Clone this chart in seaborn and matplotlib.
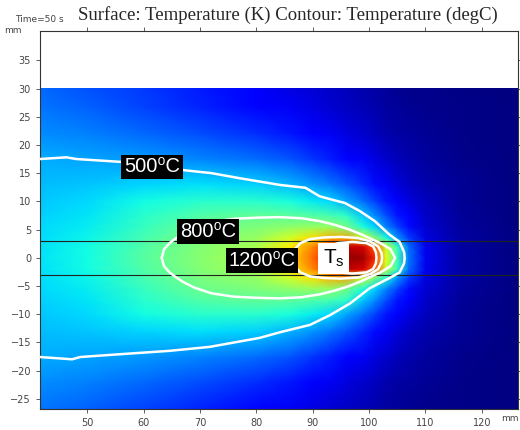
import numpy as np
import pandas as pd
import seaborn as sns
import matplotlib
matplotlib.use("Agg")
import matplotlib.pyplot as plt

# Temperature field (degC), upper half (field is symmetric about y=0)
x_nodes = [41.6, 50, 60, 70, 80, 86, 90, 93, 96, 99, 101, 103, 105, 107, 110, 116, 126.4]
y_half = [0, 2, 3.5, 5.5, 7.5, 10, 13, 17.5, 22, 26.8, 30]
temp_half = [
    [590, 630, 760, 860, 940, 1120, 1320, 1470, 1620, 1600, 1450, 1050, 720, 420, 180, 75, 25],
    [585, 625, 750, 850, 920, 1090, 1270, 1420, 1560, 1520, 1350, 980, 690, 400, 175, 74, 25],
    [580, 615, 730, 830, 890, 1010, 1120, 1200, 1220, 1000, 850, 650, 470, 320, 160, 72, 25],
    [570, 600, 700, 800, 840, 870, 890, 880, 820, 640, 560, 440, 330, 240, 140, 68, 24],
    [560, 590, 670, 750, 780, 770, 750, 730, 680, 540, 450, 350, 260, 200, 125, 64, 24],
    [545, 570, 625, 670, 670, 640, 600, 570, 490, 400, 330, 260, 200, 160, 110, 58, 23],
    [525, 540, 565, 585, 555, 515, 460, 420, 360, 290, 240, 190, 150, 120, 90, 52, 22],
    [500, 490, 470, 440, 400, 360, 310, 270, 230, 190, 160, 130, 105, 85, 70, 45, 21],
    [450, 430, 390, 350, 300, 260, 220, 190, 160, 130, 110, 90, 75, 65, 55, 38, 20],
    [410, 380, 330, 280, 230, 190, 165, 140, 120, 100, 85, 70, 60, 50, 45, 34, 20],
    [390, 355, 315, 265, 200, 165, 145, 125, 105, 90, 75, 60, 50, 45, 40, 32, 20],
]

# Isotherms (mm)
c500_x = [41.6, 46.3, 48.0, 55.8, 60.0, 67.3, 72.0, 77.0, 84.2, 88.7, 91.2, 93.0, 95.7, 98.3, 101.0, 103.6,
          105.4, 106.2, 106.3, 106.2, 105.4, 103.6, 102.8, 100.1, 96.6, 93.0, 89.5, 84.2, 80.6, 71.7,
          64.6, 55.8, 48.7, 47.3, 41.6]
c500_y = [17.5, 17.8, 17.5, 17.0, 16.7, 15.5, 15.0, 14.1, 12.9, 12.4, 10.9, 10.4, 9.7, 8.3, 6.5, 4.1,
          2.8, 1.0, 0.0, -1.0, -2.6, -3.6, -4.0, -5.4, -8.1, -10.2, -11.9, -13.2, -14.2, -15.8,
          -16.5, -17.1, -17.6, -18.0, -17.6]
c800_x = [63.2, 63.6, 64.6, 65.5, 67.0, 69.0, 72.0, 76.0, 80.0, 84.0, 88.0, 91.2, 94.0, 96.5, 98.5,
          100.0, 102.0, 103.8, 104.6]
c800_y = [0.0, 1.5, 2.6, 3.3, 4.3, 5.3, 6.3, 6.9, 7.1, 7.2, 7.0, 6.5, 5.8, 5.0, 4.2, 3.5, 2.6, 1.5, 0.0]
c1200_x = [86.5, 86.8, 87.8, 89.5, 92.0, 95.0, 98.0, 100.2, 101.6, 102.2, 102.3]
c1200_y = [0.0, 1.5, 2.6, 3.3, 3.6, 3.7, 3.5, 2.9, 2.0, 0.8, 0.0]
cts_x = [92.4, 92.6, 93.3, 94.5, 97.0, 99.5, 100.7, 101.2, 101.3]
cts_y = [0.0, 1.3, 2.2, 2.6, 2.8, 2.6, 2.0, 1.0, 0.0]

labels = ["500⁰C", "800⁰C", "1200⁰C"]
label_x = [61.5, 71.4, 81.0]
label_y = [16.1, 4.7, -0.5]

sns.set_style("ticks")
plt.rcParams["font.family"] = ["DejaVu Sans"]

fig = plt.figure(figsize=(5.2, 4.3), dpi=100)
ax = fig.add_axes([0.077, 0.049, 0.919, 0.879])
ax.set_facecolor("white")

# full field by mirroring the upper half
y_full = [-v for v in y_half[-2:0:-1]] + y_half
temp_full = temp_half[-2:0:-1] + temp_half
X, Y = np.meshgrid(x_nodes, y_full)
ax.pcolormesh(X, Y, np.array(temp_full, dtype=float), shading="gouraud",
              cmap="jet", vmin=20, vmax=1650, zorder=1)

# thin black lines at y = +/-3
ax.axhline(3, color="#222222", lw=0.8, zorder=2)
ax.axhline(-3, color="#222222", lw=0.8, zorder=2)

def closed(xs, ys):
    # mirror upper half of a symmetric isotherm to close it
    return xs + xs[-2::-1], ys + [-v for v in ys[-2::-1]]

lines = [(c500_x, c500_y)] + [closed(a, b) for a, b in
                             [(c800_x, c800_y), (c1200_x, c1200_y), (cts_x, cts_y)]]
for lx, ly in lines:
    sns.lineplot(x=lx, y=ly, sort=False, estimator=None, color="white",
                 lw=1.8, ax=ax, zorder=3)

for txt, tx, ty in zip(labels, label_x, label_y):
    ax.text(tx, ty, txt, color="white", fontsize=14.5, ha="center", va="center",
            family=["Liberation Sans", "DejaVu Sans"], zorder=5,
            bbox=dict(boxstyle="square,pad=0.14", fc="black", ec="none"))
ax.text(93.7, -0.1, "T$_\\mathregular{s}$", color="black", fontsize=15, ha="center", va="center",
        family=["Liberation Sans", "DejaVu Sans"], zorder=5,
        bbox=dict(boxstyle="square,pad=0.22", fc="white", ec="none"))

ax.set_xlim(41.6, 126.4)
ax.set_ylim(-26.8, 40.2)
ax.set_xticks(range(50, 121, 10))
ax.set_yticks(range(-25, 36, 5))
ax.tick_params(labelsize=7, colors="#444444", length=3, width=0.6,
               top=True, right=True, direction="out")
for s in ax.spines.values():
    s.set_color("#333333")
    s.set_linewidth(0.8)
ax.set_xlabel("")
ax.set_ylabel("")

fig.text(0.025, 0.928, "mm", fontsize=6.5, color="#444444", ha="center", va="center")
fig.text(0.997, 0.026, "mm", fontsize=6.5, color="#444444", ha="right", va="center")
fig.text(0.075, 0.955, "Time=50 s", fontsize=6.5, color="#444444", ha="center", va="center")
fig.text(0.554, 0.964, "Surface: Temperature (K) Contour: Temperature (degC)",
         fontsize=13.5, family=["Liberation Serif"], ha="center", va="center")

fig.savefig("out.png", dpi=100)
